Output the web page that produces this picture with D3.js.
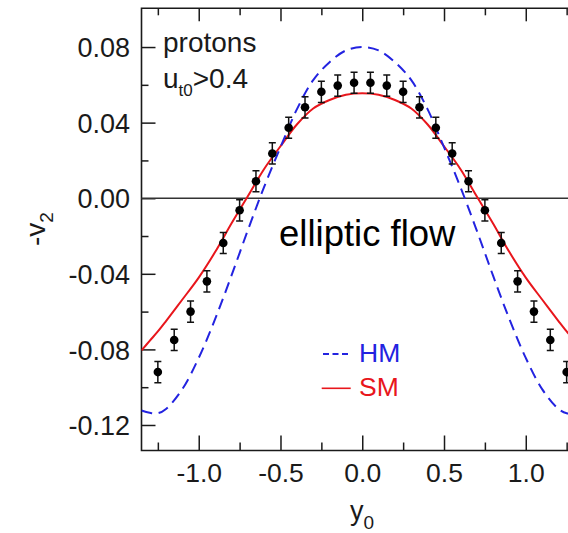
<!DOCTYPE html>
<html>
<head>
<meta charset="utf-8">
<script src="https://cdn.jsdelivr.net/npm/d3@7"></script>
<style>
  html, body { margin: 0; padding: 0; background: #fff; }
  svg { display: block; font-family: "Liberation Sans", Arial, Helvetica, sans-serif; }
</style>
</head>
<body>
<svg id="chart" width="568" height="533"></svg>
<script>
// ---------- data ----------
const ptX   = [-1.25,-1.15,-1.05,-0.95,-0.85,-0.75,-0.65,-0.55,-0.45,-0.35,-0.25,-0.15,-0.05,
                0.05, 0.15, 0.25, 0.35, 0.45, 0.55, 0.65, 0.75, 0.85, 0.95, 1.05, 1.15, 1.25];
const ptY   = [-0.092,-0.075,-0.060,-0.044,-0.0237,-0.0064,0.009,0.0237,0.0373,0.0481,0.0563,0.0596,0.0611,
                0.0611,0.0596,0.0563,0.0481,0.0373,0.0237,0.009,-0.0064,-0.0237,-0.044,-0.060,-0.075,-0.092];
const ptErr = [0.0056,0.0056,0.0056,0.0056,0.0056,0.0056,0.0056,0.0056,0.0056,0.0056,0.0056,0.0056,0.0056,
                0.0056,0.0056,0.0056,0.0056,0.0056,0.0056,0.0056,0.0056,0.0056,0.0056,0.0056,0.0056,0.0056];

const curveX = [-1.35,-1.3,-1.25,-1.2,-1.1,-1.0,-0.9,-0.8,-0.7,-0.6,-0.5,-0.4,-0.3,-0.2,-0.1,0,
                 0.1,0.2,0.3,0.4,0.5,0.6,0.7,0.8,0.9,1.0,1.1,1.2,1.25,1.3,1.35];
const hmY = [-0.1123,-0.1135,-0.1138,-0.1115,-0.101,-0.0845,-0.064,-0.041,-0.017,0.006,0.027,0.047,0.0625,0.072,0.0782,0.080,
              0.0782,0.072,0.0625,0.047,0.027,0.006,-0.017,-0.041,-0.064,-0.0845,-0.101,-0.1115,-0.1138,-0.1135,-0.1123];
const smY = [-0.0805,-0.0755,-0.0705,-0.065,-0.0536,-0.042,-0.0285,-0.0134,0.001,0.0155,0.0275,0.039,0.0475,0.052,0.0548,0.0556,
              0.0548,0.052,0.0475,0.039,0.0275,0.0155,0.001,-0.0134,-0.0285,-0.042,-0.0536,-0.065,-0.0705,-0.0755,-0.0805];

const xMajor = [-1.0,-0.5,0.0,0.5,1.0];
const xTickLabels = ["-1.0","-0.5","0.0","0.5","1.0"];
const xMinor = [-1.25,-0.75,-0.25,0.25,0.75,1.25];
const yMajor = [0.08,0.04,0.0,-0.04,-0.08,-0.12];
const yTickLabels = ["0.08","0.04","0.00","-0.04","-0.08","-0.12"];
const yMinor = [0.06,0.02,-0.02,-0.06,-0.10];

// ---------- layout ----------
const L = 141.5, R = 583, T = 8.3, B = 450.5;
const BLUE = "#2323e0", RED = "#e8161c", INK = "#1a1a1a";

const svg = d3.select("#chart");
const x = d3.scaleLinear().domain([-1.35, 1.35]).range([L, R]);
const y = d3.scaleLinear().domain([-0.1335, 0.1005]).range([B, T]);

svg.append("defs").append("clipPath").attr("id", "clip")
  .append("rect").attr("x", L).attr("y", T).attr("width", R - L).attr("height", B - T);

// ---------- axes ----------
function styleAxis(g) {
  g.select(".domain").remove();
  g.selectAll(".tick line").attr("stroke", INK).attr("stroke-width", 1.5);
}
// bottom major
const gxb = svg.append("g").attr("transform", `translate(0,${B})`)
  .call(d3.axisBottom(x).tickValues(xMajor).tickSize(-15).tickPadding(13)
        .tickFormat((d, i) => xTickLabels[i]));
styleAxis(gxb);
gxb.selectAll(".tick text").attr("fill", INK).attr("font-size", 26.5)
  .attr("font-family", "Liberation Sans, Arial, sans-serif").attr("dy", null).attr("y", 31.5);
// bottom minor
const gxbm = svg.append("g").attr("transform", `translate(0,${B})`)
  .call(d3.axisBottom(x).tickValues(xMinor).tickSize(-8).tickFormat(""));
styleAxis(gxbm);
// top major/minor
const gxt = svg.append("g").attr("transform", `translate(0,${T})`)
  .call(d3.axisTop(x).tickValues(xMajor).tickSize(-13).tickFormat(""));
styleAxis(gxt);
const gxtm = svg.append("g").attr("transform", `translate(0,${T})`)
  .call(d3.axisTop(x).tickValues(xMinor).tickSize(-7).tickFormat(""));
styleAxis(gxtm);
// left major
const gyl = svg.append("g").attr("transform", `translate(${L},0)`)
  .call(d3.axisLeft(y).tickValues(yMajor).tickSize(-14).tickPadding(11.5)
        .tickFormat((d, i) => yTickLabels[i]));
styleAxis(gyl);
gyl.selectAll(".tick text").attr("fill", INK).attr("font-size", 27)
  .attr("font-family", "Liberation Sans, Arial, sans-serif").attr("dy", "0.36em");
// left minor
const gylm = svg.append("g").attr("transform", `translate(${L},0)`)
  .call(d3.axisLeft(y).tickValues(yMinor).tickSize(-7).tickFormat(""));
styleAxis(gylm);

// frame
svg.append("path")
  .attr("d", `M${R},${T}H${L}V${B}H${R}`)
  .attr("fill", "none").attr("stroke", INK).attr("stroke-width", 1.6);

// zero line
svg.append("line")
  .attr("x1", L).attr("x2", R).attr("y1", y(0)).attr("y2", y(0))
  .attr("stroke", "#333").attr("stroke-width", 1.5);

// ---------- curves ----------
const plot = svg.append("g").attr("clip-path", "url(#clip)");
const line = d3.line().x(d => x(d[0])).y(d => y(d[1])).curve(d3.curveCatmullRom.alpha(0.5));
plot.append("path").datum(curveX.map((v, i) => [v, smY[i]]))
  .attr("d", line).attr("fill", "none").attr("stroke", RED).attr("stroke-width", 2);
plot.append("path").datum(curveX.map((v, i) => [v, hmY[i]]))
  .attr("d", line).attr("fill", "none").attr("stroke", BLUE).attr("stroke-width", 2)
  .attr("stroke-dasharray", "11,6.5");

// ---------- data points ----------
const pts = plot.selectAll("g.pt").data(ptX.map((v, i) => ({ x: v, y: ptY[i], e: ptErr[i] })))
  .enter().append("g").attr("class", "pt");
pts.append("line")
  .attr("x1", d => x(d.x)).attr("x2", d => x(d.x))
  .attr("y1", d => y(d.y - d.e)).attr("y2", d => y(d.y + d.e))
  .attr("stroke", "#111").attr("stroke-width", 1.5);
[ -1, 1 ].forEach(s => {
  pts.append("line")
    .attr("x1", d => x(d.x) - 3.5).attr("x2", d => x(d.x) + 3.5)
    .attr("y1", d => y(d.y + s * d.e)).attr("y2", d => y(d.y + s * d.e))
    .attr("stroke", "#111").attr("stroke-width", 1.5);
});
pts.append("circle").attr("cx", d => x(d.x)).attr("cy", d => y(d.y)).attr("r", 4.3).attr("fill", "#000");

// ---------- text ----------
svg.append("text").attr("x", 163).attr("y", 52).attr("font-size", 28).attr("fill", INK).text("protons");
const ut = svg.append("text").attr("x", 163).attr("y", 88).attr("font-size", 28).attr("fill", INK);
ut.append("tspan").text("u");
ut.append("tspan").attr("font-size", 17).attr("dy", 8).text("t0");
ut.append("tspan").attr("dy", -8).text(">0.4");

svg.append("text").attr("x", 279).attr("y", 246).attr("font-size", 36.5).attr("fill", "#000").text("elliptic flow");

// legend
svg.append("line").attr("x1", 323).attr("x2", 349).attr("y1", 354).attr("y2", 354)
  .attr("stroke", BLUE).attr("stroke-width", 2).attr("stroke-dasharray", "6,3.5");
svg.append("text").attr("x", 359).attr("y", 361.7).attr("font-size", 26.5).attr("fill", BLUE).text("HM");
svg.append("line").attr("x1", 321.7).attr("x2", 350.7).attr("y1", 388.3).attr("y2", 388.3)
  .attr("stroke", RED).attr("stroke-width", 1.6);
svg.append("text").attr("x", 359).attr("y", 396).attr("font-size", 26.5).attr("fill", RED).text("SM");

// axis titles
const xt = svg.append("text").attr("x", 350).attr("y", 520).attr("font-size", 27).attr("fill", INK);
xt.append("tspan").text("y");
xt.append("tspan").attr("font-size", 19).attr("dy", 9).text("0");

const yt = svg.append("text").attr("transform", "translate(45,246) rotate(-90)")
  .attr("font-size", 28).attr("fill", INK);
yt.append("tspan").text("-v");
yt.append("tspan").attr("font-size", 19).attr("dy", 8).text("2");
</script>
</body>
</html>
